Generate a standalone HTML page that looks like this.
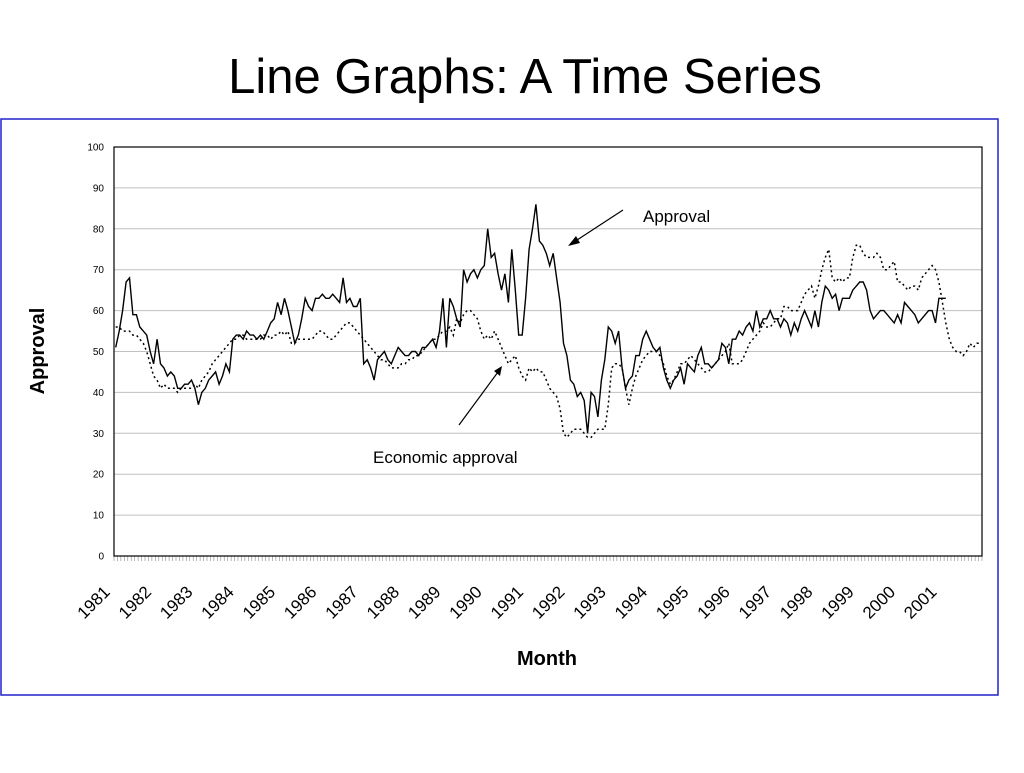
<!DOCTYPE html>
<html><head><meta charset="utf-8"><style>
body{margin:0;background:#fff;width:1024px;height:768px;overflow:hidden;font-family:"Liberation Sans",Arial,sans-serif}
</style></head><body>
<svg width="1024" height="768" viewBox="0 0 1024 768" xmlns="http://www.w3.org/2000/svg" font-family="Liberation Sans, Arial, sans-serif">
<text x="525" y="93" font-size="49" text-anchor="middle" fill="#000">Line Graphs: A Time Series</text>
<rect x="1" y="119" width="997" height="576" fill="#fff" stroke="#2222cc" stroke-width="1.5"/>
<g id="grid"></g>
<g id="yticks"></g>
<g id="xticks"></g>
<g id="xlabels"></g>
<rect x="114" y="147" width="868" height="409" fill="none" stroke="#000" stroke-width="1.2"/>
<path id="econ" fill="none" stroke="#000" stroke-width="1.5" stroke-dasharray="2,3"/>
<path id="appr" fill="none" stroke="#000" stroke-width="1.4"/>
<text transform="translate(44,351) rotate(-90)" font-size="20" font-weight="bold" text-anchor="middle">Approval</text>
<text x="547" y="665" font-size="20" font-weight="bold" text-anchor="middle">Month</text>
<text x="643" y="222" font-size="17">Approval</text>
<line x1="623" y1="210" x2="574" y2="242" stroke="#000" stroke-width="1.2"/>
<polygon points="568,246 576,236 580,243" fill="#000"/>
<text x="373" y="463" font-size="17">Economic approval</text>
<line x1="459" y1="425" x2="498" y2="372" stroke="#000" stroke-width="1.2"/>
<polygon points="502,366 494,371 500,376" fill="#000"/>
</svg>
<script>
const yTicks=[0,10,20,30,40,50,60,70,80,90,100];
const years=["1981","1982","1983","1984","1985","1986","1987","1988","1989","1990","1991","1992","1993","1994","1995","1996","1997","1998","1999","2000","2001"];
const approval=[51,55,60,67,68,59,59,56,55,54,50,47,
53,47,46,44,45,44,41,41,42,42,43,41,
37,40,41,43,44,45,42,44,47,45,53,54,
54,53,55,54,54,53,54,53,55,57,58,62,
59,63,60,56,52,54,58,63,61,60,63,63,
64,63,63,64,63,62,68,62,63,61,61,63,
47,48,46,43,48,49,50,48,47,49,51,50,
49,49,50,50,49,51,51,52,53,51,55,63,
51,63,61,58,56,70,67,69,70,68,70,71,
80,73,74,69,65,69,62,75,65,54,54,63,
75,80,86,77,76,74,71,74,68,62,52,49,
43,42,39,40,38,30,40,39,34,43,48,56,
55,52,55,46,41,43,44,49,49,53,55,53,
51,50,51,46,43,41,43,44,46,42,47,46,
45,49,51,47,47,46,47,48,52,51,47,53,
53,55,54,56,57,55,60,56,58,58,60,58,
58,56,58,57,54,57,55,58,60,58,56,60,
56,62,66,65,63,64,60,63,63,63,65,66,
67,67,65,60,58,59,60,60,59,58,57,59,
57,62,61,60,59,57,58,59,60,60,57,63,
63,63];
const economic=[56,56,55,55,55,54,54,53,52,50,47,44,
43,41,42,41,41,41,40,41,41,41,41,42,
41,43,44,45,47,48,49,50,51,52,53,53,
54,54,53,53,53,53,53,54,54,53,54,54,
55,54,55,52,52,53,53,53,53,53,54,55,
55,54,53,53,54,55,56,57,57,56,55,54,
53,52,51,50,49,48,48,47,46,46,46,47,
47,48,48,49,49,50,51,52,53,53,54,55,
55,56,54,58,57,59,60,60,59,58,55,53,
54,53,55,53,51,49,47,48,49,46,44,43,
46,45,46,45,45,43,41,40,39,36,30,29,
30,31,31,31,30,29,29,30,31,31,31,37,
46,47,47,46,41,37,41,44,46,48,49,50,
50,50,49,47,44,42,43,45,47,47,48,49,
48,47,46,45,45,46,47,48,49,50,52,47,
47,47,48,50,52,53,54,55,57,56,56,57,
58,58,61,61,60,60,60,62,64,65,66,63,
66,70,73,75,68,67,68,67,68,68,73,76,
76,74,73,73,73,74,73,70,70,71,72,67,
67,66,65,66,66,65,68,69,70,71,70,67,
62,57,53,51,50,50,49,50,52,51,52,52];
const X0=114,X1=982,Y0=556,Y1=147,NM=252;
const NS="http://www.w3.org/2000/svg";
function xs(i){return X0+(X1-X0)*(i+0.5)/NM;}
function ys(v){return Y0-(Y0-Y1)*v/100;}
function mk(t,a,p){const e=document.createElementNS(NS,t);for(const k in a)e.setAttribute(k,a[k]);p.appendChild(e);return e;}
const grid=document.getElementById('grid'),yt=document.getElementById('yticks');
yTicks.forEach(v=>{
 if(v>0&&v<100){const l=mk('line',{x1:X0,x2:X1,y1:ys(v),y2:ys(v),stroke:'#c0c0c0','stroke-width':1},grid);
 
 }
 const t=mk('text',{x:104,y:ys(v)+3.5,'font-size':10,'text-anchor':'end'},yt);
 t.textContent=v;
 
 
});
const xt=document.getElementById('xticks');
for(let i=0;i<=NM;i++){const x=X0+(X1-X0)*i/NM;const l=mk('line',{x1:x,x2:x,y1:Y0,y2:Y0+5,stroke:'#888','stroke-width':0.6},xt);
 
 }
const xl=document.getElementById('xlabels');
years.forEach((y,k)=>{const x=X0+(X1-X0)*(k*12)/NM-3,yy=593;
 const t=mk('text',{x:x,y:yy,'font-size':17,'text-anchor':'end',transform:`rotate(-45 ${x} ${yy})`},xl);
 t.textContent=y;
 
 });
function path(arr){return arr.map((v,i)=>(i?'L':'M')+xs(i).toFixed(1)+','+ys(v).toFixed(1)).join('');}
document.getElementById('appr').setAttribute('d',path(approval));
document.getElementById('econ').setAttribute('d',path(economic));
</script>
</body></html>
